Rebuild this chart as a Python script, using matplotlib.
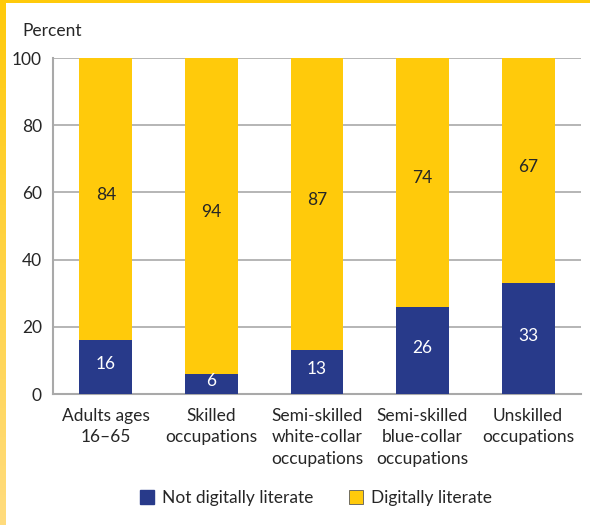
import matplotlib.pyplot as plt
import numpy as np
from matplotlib.colors import LinearSegmentedColormap
from matplotlib.patches import Patch

categories = [
    "Adults ages\n16\u201365",
    "Skilled\noccupations",
    "Semi-skilled\nwhite-collar\noccupations",
    "Semi-skilled\nblue-collar\noccupations",
    "Unskilled\noccupations",
]
not_literate = [16, 6, 13, 26, 33]
literate = [84, 94, 87, 74, 67]
yticks = [0, 20, 40, 60, 80, 100]

NAVY = "#283a8a"
GOLD = "#ffca0b"
GRID = "#a9a9a9"
TEXT = "#262626"
FS = 12.5

plt.rcParams['font.family'] = ['Lato', 'DejaVu Sans']
plt.rcParams['font.size'] = FS

fig = plt.figure(figsize=(5.9, 5.25), dpi=100)
ax = fig.add_axes([0.0898, 0.2495, 0.8949, 0.64])

# yellow frame: thin strip on top, fading strip on the left
top = fig.add_axes([0, 1 - 3 / 525, 1, 3 / 525])
top.set_facecolor(GOLD)
top.set_xticks([])
top.set_yticks([])
for s in top.spines.values():
    s.set_visible(False)
side = fig.add_axes([0, 0, 6 / 590, 1])
fade = LinearSegmentedColormap.from_list("fade", ["#ffdc7e", GOLD])
side.imshow(np.linspace(0, 1, 256).reshape(-1, 1), cmap=fade, aspect="auto",
            origin="lower", extent=[0, 1, 0, 1])
side.axis("off")

x = np.arange(len(categories))
ax.bar(x, not_literate, width=0.5, color=NAVY, zorder=3)
ax.bar(x, literate, width=0.5, bottom=not_literate, color=GOLD, zorder=3)

for xi, n, d in zip(x, not_literate, literate):
    ax.text(xi, n / 2 + 0.8, str(n), ha="center", va="center",
            color="white", fontsize=FS, zorder=4)
    ax.text(xi, n + d / 2 + 1.2, str(d), ha="center", va="center",
            color=TEXT, fontsize=FS, zorder=4)

ax.set_xlim(-0.5, len(categories) - 0.5)
ax.set_ylim(0, 100)
ax.set_yticks(yticks)
ax.set_yticklabels([str(t) for t in yticks], color=TEXT)
ax.set_xticks(x)
ax.set_xticklabels(categories, color=TEXT, linespacing=1.42)
ax.tick_params(axis="both", length=0, pad=8)
ax.tick_params(axis="x", pad=10)
ax.yaxis.grid(True, color=GRID, linewidth=1.2, zorder=0)
ax.set_axisbelow(True)
for side_name in ["top", "right"]:
    ax.spines[side_name].set_visible(False)
for side_name in ["left", "bottom"]:
    ax.spines[side_name].set_color(GRID)
    ax.spines[side_name].set_linewidth(1.5)

fig.text(22 / 590, 1 - 31 / 525, "Percent", color=TEXT, fontsize=FS,
         ha="left", va="center")

handles = [
    Patch(facecolor=NAVY, edgecolor=NAVY, label="Not digitally literate"),
    Patch(facecolor=GOLD, edgecolor="#5a5a5a", linewidth=0.6,
          label="Digitally literate"),
]
fig.legend(handles=handles, loc="center", bbox_to_anchor=(316 / 590, 1 - 498 / 525),
           ncol=2, frameon=False, handlelength=0.8, handleheight=0.9,
           handletextpad=0.45, columnspacing=2.1, fontsize=FS,
           labelcolor=TEXT)

fig.savefig("out.png", dpi=100)
